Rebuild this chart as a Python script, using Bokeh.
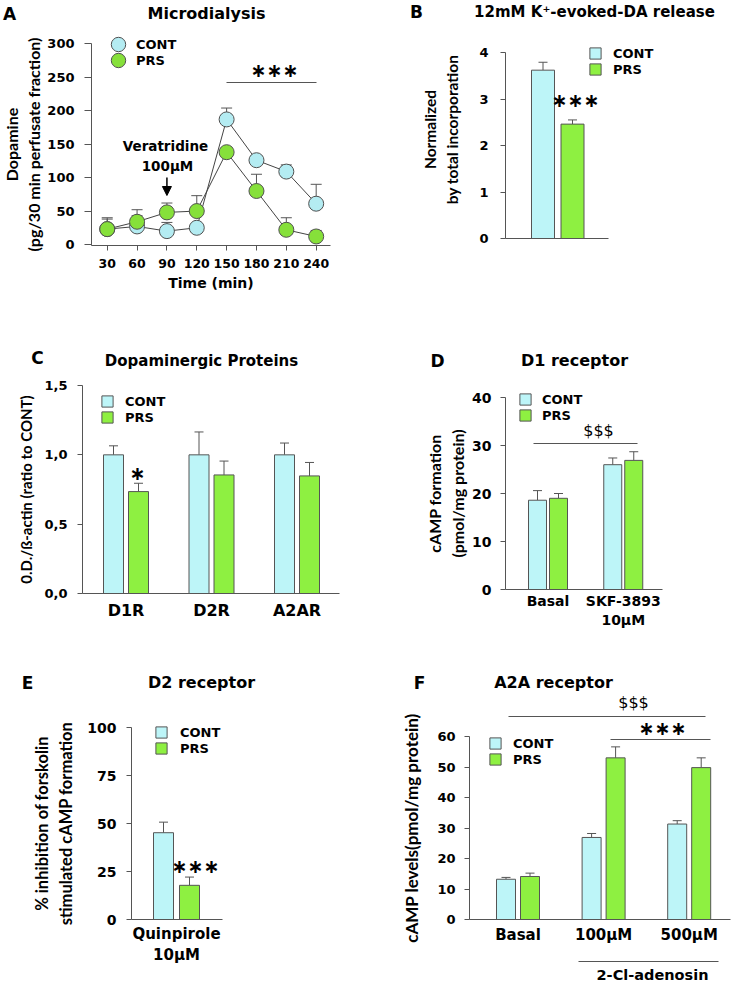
import math
from bokeh.plotting import figure
from bokeh.models import (Range1d, FixedTicker, Label, Legend, LegendItem, Whisker,
                          TeeHead, Arrow, NormalHead, ColumnDataSource)
from bokeh.layouts import column, row
from bokeh.embed import file_html
from bokeh.resources import INLINE

# ---------------- data ----------------
series = ["CONT", "PRS"]

a_time = [30, 60, 90, 120, 150, 180, 210, 240]
a_cont = [23, 27, 20, 25, 187, 126, 109, 61]
a_cont_err = [15, 16, 13, 4, 17, 5, 10, 29]
a_prs = [23, 34, 48, 50, 138, 80, 22, 12]
a_prs_err = [17, 18, 14, 23, 6, 25, 18, 9]
a_yticks = [0, 50, 100, 150, 200, 250, 300]

b_groups = [""]
b_cont = [3.62]
b_cont_err = [0.17]
b_prs = [2.46]
b_prs_err = [0.09]
b_yticks = [0, 1, 2, 3, 4]

c_groups = ["D1R", "D2R", "A2AR"]
c_cont = [1.0, 1.0, 1.0]
c_cont_err = [0.065, 0.165, 0.085]
c_prs = [0.735, 0.855, 0.848]
c_prs_err = [0.06, 0.10, 0.097]
c_yticks = [0, 0.5, 1.0, 1.5]
c_ytick_labels = ["0,0", "0,5", "1,0", "1,5"]

d_groups = ["Basal", "SKF-3893\n10µM"]
d_cont = [18.6, 26.0]
d_cont_err = [2.0, 1.4]
d_prs = [19.0, 26.9]
d_prs_err = [1.0, 1.8]
d_yticks = [0, 10, 20, 30, 40]

e_groups = ["Quinpirole\n10µM"]
e_cont = [45.2]
e_cont_err = [5.5]
e_prs = [17.8]
e_prs_err = [4.3]
e_yticks = [0, 25, 50, 75, 100]

f_groups = ["Basal", "100µM", "500µM"]
f_cont = [13.2, 26.9, 31.3]
f_cont_err = [0.6, 1.3, 1.1]
f_prs = [14.1, 53.0, 49.8]
f_prs_err = [1.1, 3.6, 3.2]
f_yticks = [0, 10, 20, 30, 40, 50, 60]

# ---------------- style ----------------
CONT_FILL = "#bdf5f8"
PRS_FILL = "#8ef041"
CONT_DOT = "#b4ecf2"
PRS_DOT = "#86e03a"
EDGE = "#555555"
TXT_FONT = "DejaVu Sans"
LAB_FONT = "Lato"


def make_fig(origin, size, box, xr, yr):
    """Figure whose frame fills the panel; axes are pinned to the data box."""
    ox, oy = origin
    W, H = size
    ax0, ay0, ax1, ay1 = box
    sx = (xr[1] - xr[0]) / (ax1 - ax0)
    sy = (yr[1] - yr[0]) / (ay1 - ay0)
    X = (xr[0] - (ax0 - ox) * sx, xr[1] + (ox + W - ax1) * sx)
    Y = (yr[0] - (oy + H - ay1) * sy, yr[1] + (ay0 - oy) * sy)
    p = figure(x_range=Range1d(*X), y_range=Range1d(*Y),
               frame_width=W, frame_height=H, min_border=0,
               toolbar_location=None, output_backend="svg")
    p.outline_line_color = None
    p.xgrid.visible = False
    p.ygrid.visible = False
    p.background_fill_color = "white"
    p.border_fill_color = "white"
    p.yaxis.fixed_location = xr[0]
    p.yaxis.bounds = yr
    p.xaxis.fixed_location = yr[0]
    p.xaxis.bounds = xr
    for ax in (p.xaxis[0], p.yaxis[0]):
        ax.axis_line_color = EDGE
        ax.major_tick_line_color = EDGE
        ax.minor_tick_line_color = None
        ax.major_tick_in = 0
        ax.major_tick_out = 6
        ax.major_label_text_font = TXT_FONT
        ax.major_label_text_font_style = "bold"
        ax.major_label_text_font_size = "13px"
        ax.major_label_text_color = "black"
        ax.axis_label_text_font = LAB_FONT
        ax.axis_label_text_font_style = "bold"
        ax.axis_label_text_color = "black"
    p.yaxis.major_label_standoff = 10
    conv = dict(frame=(ox, oy, ox + W, oy + H), xr=X, yr=Y)
    return p, conv


def to_data(conv, px, py):
    fx0, fy0, fx1, fy1 = conv["frame"]
    xr, yr = conv["xr"], conv["yr"]
    x = xr[0] + (px - fx0) * (xr[1] - xr[0]) / (fx1 - fx0)
    y = yr[0] + (fy1 - py) * (yr[1] - yr[0]) / (fy1 - fy0)
    return x, y


def text(p, conv, px, py, t, size, bold=True, font=TXT_FONT, align="center", angle=0.0):
    x, y = to_data(conv, px, py)
    p.add_layout(Label(x=x, y=y, text=t, text_font=font, text_font_size=size,
                       text_font_style="bold" if bold else "normal", angle=angle,
                       text_align=align, text_baseline="middle", text_color="black"))


def hline(p, conv, px0, px1, py):
    x0, y = to_data(conv, px0, py)
    x1, _ = to_data(conv, px1, py)
    p.add_layout(Arrow(x_start=x0, y_start=y, x_end=x1, y_end=y, end=None,
                       line_color=EDGE, line_width=1))


def whiskers(p, xs, tops, errs, cap=10):
    src = ColumnDataSource(dict(base=xs, lower=tops, upper=[t + e for t, e in zip(tops, errs)]))
    p.add_layout(Whisker(source=src, base="base", lower="lower", upper="upper",
                         dimension="height", line_color=EDGE, line_width=1,
                         upper_head=TeeHead(size=cap, line_color=EDGE, line_width=1),
                         lower_head=None))


def legend(p, conv, renderers, labels, cx, cy, text_start, glyph=14, label_h=16):
    fx0, fy0, fx1, fy1 = conv["frame"]
    n = len(renderers)
    item = max(glyph, label_h)
    height = n * item
    top = cy - item / 2
    lg = Legend(items=[LegendItem(label=s, renderers=[r]) for s, r in zip(labels, renderers)],
                location=(int(round(cx - glyph / 2 - fx0)), int(round(fy1 - top - height))),
                glyph_width=glyph, glyph_height=glyph, label_height=label_h,
                spacing=0, padding=0, margin=0,
                label_standoff=max(0, int(round(text_start - (cx + glyph / 2)))),
                border_line_color=None, background_fill_alpha=0,
                label_text_font=TXT_FONT, label_text_font_style="bold",
                label_text_font_size="13px", label_text_color="black")
    p.add_layout(lg)


def bar_panel(origin, size, box, yr, g0, pitch, off_px, w_px, groups,
              cont, cont_err, prs, prs_err, yticks):
    ax0, ay0, ax1, ay1 = box
    xr = ((ax0 - g0) / pitch, (ax1 - g0) / pitch)
    p, conv = make_fig(origin, size, box, xr, yr)
    idx = list(range(len(groups)))
    off = off_px / pitch
    w = w_px / pitch
    xc = [i - off for i in idx]
    xp = [i + off for i in idx]
    rc = p.vbar(x=xc, top=cont, width=w, fill_color=CONT_FILL, line_color=EDGE, line_width=1)
    rp = p.vbar(x=xp, top=prs, width=w, fill_color=PRS_FILL, line_color=EDGE, line_width=1)
    whiskers(p, xc, cont, cont_err, cap=9)
    whiskers(p, xp, prs, prs_err, cap=9)
    p.yaxis.ticker = FixedTicker(ticks=yticks, minor_ticks=[])
    p.xaxis.ticker = FixedTicker(ticks=idx, minor_ticks=[])
    p.xaxis.major_label_overrides = {i: g for i, g in zip(idx, groups)}
    p.xaxis.major_tick_line_color = None
    p.xaxis.major_tick_out = 0
    return p, conv, rc, rp


STARS = "∗∗∗"

# ---------------- panel A ----------------
pa, ca = make_fig((0, 0), (380, 300), (91, 43, 330, 245), (14.2, 254.4), (-1.5, 300.5))
for vals, errs in ((a_cont, a_cont_err), (a_prs, a_prs_err)):
    whiskers(pa, a_time, vals, errs, cap=11)
pa.line(a_time, a_cont, line_color="#444444", line_width=1)
pa.line(a_time, a_prs, line_color="#444444", line_width=1)
ra_c = pa.scatter(a_time, a_cont, size=15, fill_color=CONT_DOT, line_color="#505050", line_width=1)
ra_p = pa.scatter(a_time, a_prs, size=15, fill_color=PRS_DOT, line_color="#505050", line_width=1)
pa.yaxis.ticker = FixedTicker(ticks=a_yticks, minor_ticks=[])
pa.xaxis.ticker = FixedTicker(ticks=a_time, minor_ticks=[])
pa.yaxis.major_tick_out = 7
pa.yaxis.major_label_standoff = 10
pa.xaxis.major_tick_out = 5
pa.xaxis.major_label_standoff = 8
pa.xaxis.major_label_text_font_size = "12.5px"
pa.yaxis.axis_label = "Dopamine\n(pg/30 min perfusate fraction)"
pa.yaxis.axis_label_text_font_size = "16px"
pa.yaxis.axis_label_standoff = 1
pa.xaxis.axis_label = "Time (min)"
pa.xaxis.axis_label_text_font = TXT_FONT
pa.xaxis.axis_label_text_font_size = "14px"
pa.xaxis.axis_label_standoff = 4
legend(pa, ca, [ra_c], [series[0]], 118, 44, 128, glyph=36, label_h=16)
legend(pa, ca, [ra_p], [series[1]], 118, 60, 128, glyph=36, label_h=16)
text(pa, ca, 9, 13, "A", "17px")
text(pa, ca, 206, 13, "Microdialysis", "16px")
text(pa, ca, 165, 145, "Veratridine", "13.5px")
text(pa, ca, 167, 165, "100µM", "13.5px")
_, ys = to_data(ca, 0, 177)
_, ye = to_data(ca, 0, 195)
pa.add_layout(Arrow(x_start=a_time[2], y_start=ys, x_end=a_time[2], y_end=ye,
                    line_color="black", line_width=1.5,
                    end=NormalHead(size=9, fill_color="black", line_color="black")))
text(pa, ca, 274, 69, STARS, "19px")
hline(pa, ca, 226, 316, 82)

# ---------------- panel B ----------------
pb, cb, rb_c, rb_p = bar_panel((380, 0), (353, 300), (505, 52, 608, 238), (0, 4),
                               557.25, 100.0, 14.75, 23, b_groups,
                               b_cont, b_cont_err, b_prs, b_prs_err, b_yticks)
pb.yaxis.major_tick_out = 5
pb.yaxis.major_label_standoff = 12
text(pb, cb, 429, 129, "Normalized", "15.5px", font=LAB_FONT, angle=math.pi / 2)
text(pb, cb, 451, 129, "by total incorporation", "15.5px", font=LAB_FONT, angle=math.pi / 2)
legend(pb, cb, [rb_c, rb_p], series, 595, 53, 613)
text(pb, cb, 416, 11, "B", "17px")
text(pb, cb, 594, 11, "12mM K⁺-evoked-DA release", "15px")
text(pb, cb, 575, 99, STARS, "19px")

# ---------------- panel C ----------------
pc, cc, rc_c, rc_p = bar_panel((0, 300), (380, 330), (82, 385, 339, 593), (0, 1.5),
                               125.5, 85.5, 12.5, 20, c_groups,
                               c_cont, c_cont_err, c_prs, c_prs_err, c_yticks)
pc.yaxis.major_label_overrides = {t: l for t, l in zip(c_yticks, c_ytick_labels)}
pc.yaxis.major_tick_out = 5
pc.yaxis.major_label_standoff = 10
pc.yaxis.axis_label = "0.D./ß-actin (ratio to CONT)"
pc.yaxis.axis_label_text_font_size = "15px"
pc.yaxis.axis_label_standoff = 6
pc.xaxis.major_label_text_font_size = "16px"
pc.xaxis.major_label_standoff = 7
legend(pc, cc, [rc_c, rc_p], series, 107, 401, 125)
text(pc, cc, 37, 357, "C", "17px")
text(pc, cc, 201, 360, "Dopaminergic Proteins", "15px")
text(pc, cc, 137, 472, "∗", "19px")

# ---------------- panel D ----------------
pd_, cd, rd_c, rd_p = bar_panel((380, 300), (353, 330), (505, 397, 662, 589), (0, 40),
                                547.5, 75.25, 10.5, 18, d_groups,
                                d_cont, d_cont_err, d_prs, d_prs_err, d_yticks)
pd_.yaxis.axis_label = "cAMP formation\n(pmol/mg protein)"
pd_.yaxis.axis_label_text_font_size = "16px"
pd_.yaxis.axis_label_standoff = 2
pd_.yaxis.major_label_text_font_size = "14px"
pd_.yaxis.major_tick_out = 5
pd_.yaxis.major_label_standoff = 9
pd_.xaxis.major_label_text_font_size = "14px"
pd_.xaxis.major_label_standoff = 3
legend(pd_, cd, [rd_c, rd_p], series, 525, 399, 542)
text(pd_, cd, 437, 360, "D", "17px")
text(pd_, cd, 574, 360, "D1 receptor", "16px")
text(pd_, cd, 598, 430, "$$$", "16px", bold=False)
hline(pd_, cd, 533, 637, 443)

# ---------------- panel E ----------------
pe, ce, re_c, re_p = bar_panel((0, 630), (380, 354), (131, 727, 222, 919), (0, 100),
                               176.0, 100.0, 13, 20, e_groups,
                               e_cont, e_cont_err, e_prs, e_prs_err, e_yticks)
pe.yaxis.axis_label = "% inhibition of forskolin\nstimulated cAMP formation"
pe.yaxis.axis_label_text_font_size = "16.5px"
pe.yaxis.axis_label_standoff = 8
pe.yaxis.major_label_text_font_size = "14px"
pe.yaxis.major_tick_out = 5
pe.yaxis.major_label_standoff = 10
pe.xaxis.major_label_text_font_size = "15px"
pe.xaxis.major_label_standoff = 5
legend(pe, ce, [re_c, re_p], series, 161, 732, 180)
text(pe, ce, 27, 682, "E", "17px")
text(pe, ce, 201, 682, "D2 receptor", "16px")
text(pe, ce, 195, 865, STARS, "19px")

# ---------------- panel F ----------------
pf, cf, rf_c, rf_p = bar_panel((380, 630), (353, 354), (469, 736, 730, 919), (0, 60),
                               517.5, 85.6, 12, 19, f_groups,
                               f_cont, f_cont_err, f_prs, f_prs_err, f_yticks)
pf.yaxis.axis_label = "cAMP levels(pmol/mg protein)"
pf.yaxis.axis_label_text_font_size = "17px"
pf.yaxis.axis_label_standoff = 12
pf.yaxis.major_tick_out = 5
pf.yaxis.major_label_standoff = 9
pf.xaxis.major_label_text_font_size = "15px"
pf.xaxis.major_label_standoff = 6
legend(pf, cf, [rf_c, rf_p], series, 495, 743, 513)
text(pf, cf, 419, 682, "F", "17px")
text(pf, cf, 553, 682, "A2A receptor", "16px")
text(pf, cf, 633, 702, "$$$", "16px", bold=False)
hline(pf, cf, 508, 705, 716)
text(pf, cf, 662, 727, STARS, "19px")
hline(pf, cf, 610, 710, 739)
hline(pf, cf, 578, 718, 961)
text(pf, cf, 652, 974, "2-Cl-adenosin", "14.5px")

layout = column(row(pa, pb), row(pc, pd_), row(pe, pf))
open("out.html", "w").write(file_html(layout, INLINE))
